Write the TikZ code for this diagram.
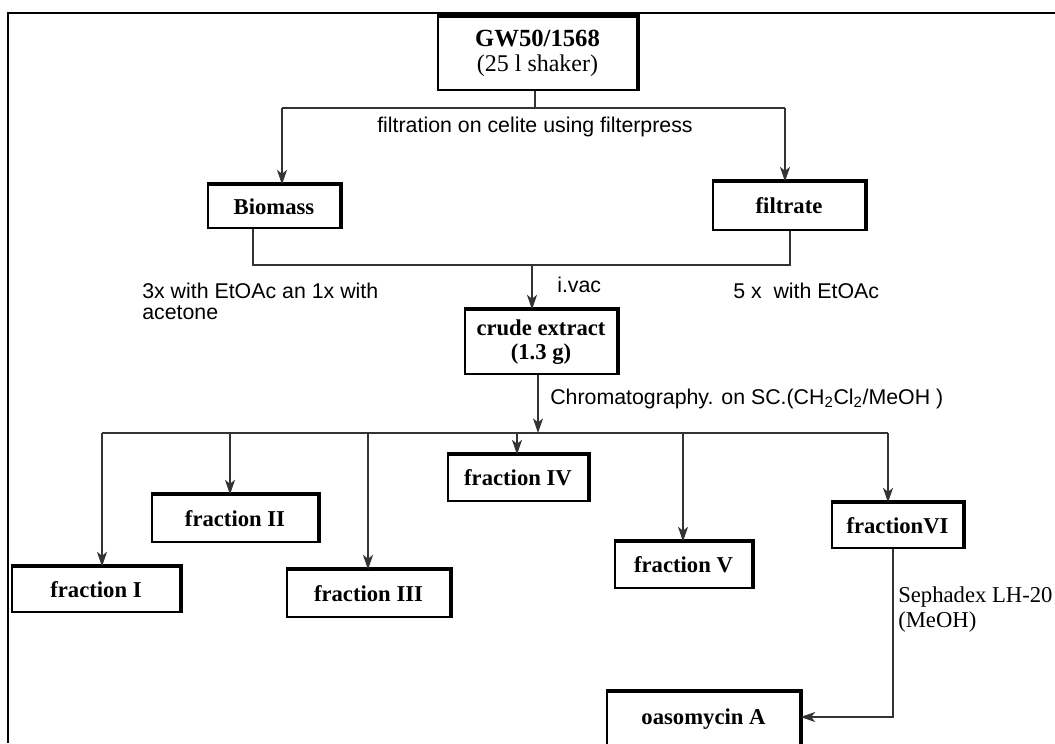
\documentclass[tikz,border=0pt]{standalone}
\usepackage{fontspec}
\setmainfont{Liberation Serif}
\newfontfamily\arialf{Liberation Sans}
\usetikzlibrary{arrows.meta,calc}
\newcommand\fbx[6]{%
 \node[boxst,minimum width={(#4-#2)*0.75pt},minimum height={(#5-#3)*0.75pt}] (#1) at ({(#2+#4)/2},{(#3+#5)/2}) {#6};
 \draw[shad] ([shift={(0,-1)}]#1.north west) -- ([shift={(1,-1)}]#1.north east) -- ([shift={(1,0)}]#1.south east);
}
\begin{document}
\begin{tikzpicture}[x=0.75pt,y=-0.75pt,
 boxst/.style={draw,line width=0.8pt,inner sep=0pt,font=\fontsize{17}{18}\selectfont\bfseries,align=center},
 shad/.style={line width=2.4pt},
 conn/.style={line width=0.8pt,draw=black!80},
 arr/.style={conn,-{Stealth[length=11pt,width=7.5pt,inset=3pt]}},
 lab/.style={font=\arialf\fontsize{16}{19}\selectfont,inner sep=0pt},
 slab/.style={font=\fontsize{17}{19}\selectfont,inner sep=0pt}]
\useasboundingbox (0,0) rectangle (1055,743);
% frame
\coordinate (fb) at (8,743);
\coordinate (fc) at (8,13);
\coordinate (fr) at (1056,13);
\draw[line width=1.6pt] (fb) -- (fc) -- (fr);
% boxes
\fbx{title}{438}{17}{637}{90}{{\fontsize{18.5}{18}\selectfont GW50/1568}\\[1pt]{\mdseries\fontsize{18}{18}\selectfont (25 l shaker)}}
\fbx{bio}{208}{185}{340}{228}{Biomass}
\fbx{filt}{713}{182}{865}{230}{filtrate}
\fbx{crude}{465}{310}{617}{374}{crude extract\\(1.3 g)}
\fbx{f1}{12}{567}{180}{612}{fraction I}
\fbx{f2}{152}{495}{318}{542}{fraction II}
\fbx{f3}{287}{570}{450}{617}{fraction III}
\fbx{f4}{448}{455}{588}{501}{fraction IV}
\fbx{f5}{615}{542}{752}{588}{fraction V}
\fbx{f6}{832}{503}{963}{548}{fractionVI}
\fbx{oas}{607}{692}{800}{746}{oasomycin A}
% top split
\coordinate (t1) at (535,108);
\coordinate (hl) at (282,108);
\coordinate (hr) at (785,108);
\draw[conn] (title.south -| t1) -- (t1);
\draw[conn] (hl) -- (hr);
\draw[arr] (hl) -- (hl |- bio.north);
\draw[arr] (hr) -- (hr |- filt.north);
\node[lab] (filtlab) at (535,127) {filtration on celite using filterpress};
% merge
\coordinate (bl) at (253,265);
\coordinate (br) at (790,265);
\coordinate (cv) at (532,265);
\draw[conn] (bl |- bio.south) -- (bl) -- (br) -- (br |- filt.south);
\draw[arr] (cv) -- (cv |- crude.north);
\node[lab,anchor=base west] (l3a) at (142,298) {3x with EtOAc an 1x with};
\node[lab,anchor=base west] (l3b) at (142,319) {acetone};
\node[lab,anchor=base west] (l5) at (733,298) {5 x\ \ with EtOAc};
\node[lab,anchor=base west] (lvac) at (557,292) {i.vac};
% chromatography
\coordinate (ch) at (538,433);
\coordinate (cl) at (102,433);
\coordinate (cr) at (888,433);
\draw[arr] (ch |- crude.south) -- (ch);
\draw[conn] (cl) -- (cr);
\node[lab,anchor=base west] (lchr) at (550,404) {Chromatography. on SC.(CH\textsubscript{2}Cl\textsubscript{2}/MeOH )};
\coordinate (a2) at (230,433);
\coordinate (a3) at (368,433);
\coordinate (a4) at (517,433);
\coordinate (a5) at (683,433);
\draw[arr] (cl) -- (cl |- f1.north);
\draw[arr] (a2) -- (a2 |- f2.north);
\draw[arr] (a3) -- (a3 |- f3.north);
\draw[arr] (a4) -- (a4 |- f4.north);
\draw[arr] (a5) -- (a5 |- f5.north);
\draw[arr] (cr) -- (cr |- f6.north);
% sephadex
\coordinate (sc) at (893,717);
\draw[arr] (sc |- f6.south) -- (sc) -- (oas.east |- sc);
\node[slab,anchor=base west] (lsa) at (898,602) {Sephadex LH-20};
\node[slab,anchor=base west] (lsb) at (898,627) {(MeOH)};
\end{tikzpicture}
\end{document}
